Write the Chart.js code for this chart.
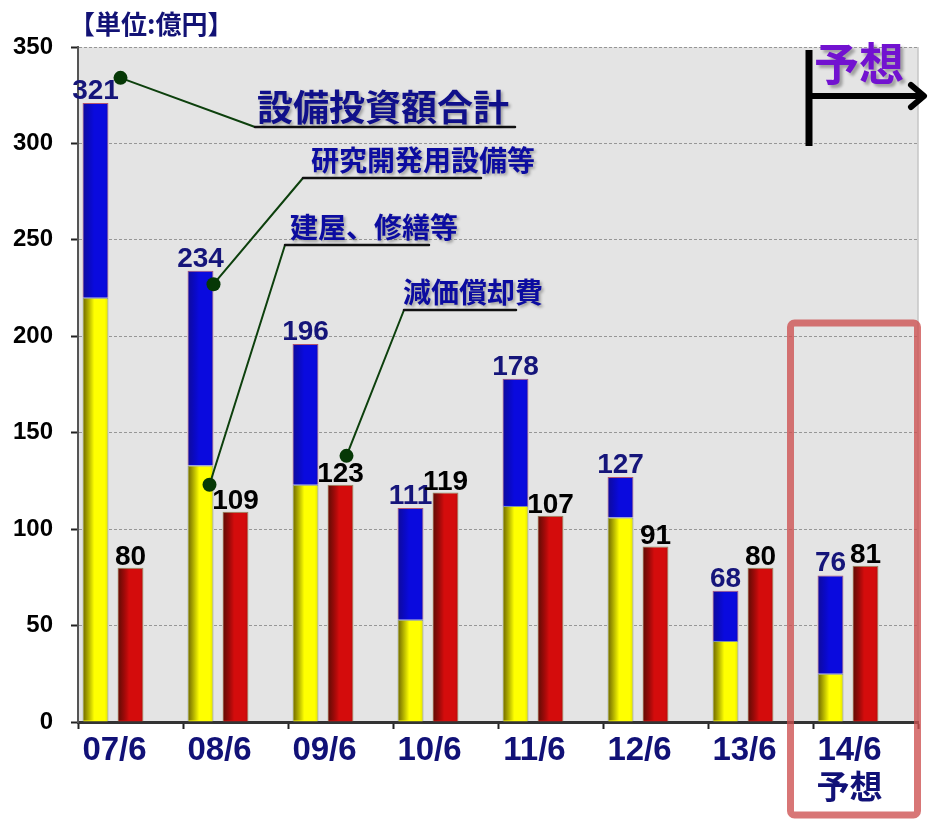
<!DOCTYPE html>
<html lang="ja">
<head>
<meta charset="utf-8">
<title>設備投資額と減価償却費</title>
<script src="https://cdn.jsdelivr.net/npm/chart.js@4.4.1/dist/chart.umd.min.js"></script>
<style>
  html, body { margin: 0; padding: 0; background: #fff; }
  #wrap { width: 930px; height: 820px; position: relative; }
</style>
</head>
<body>
<div id="wrap"><canvas id="capexChart" width="930" height="820"></canvas></div>
<script>
// 決算期（6月期）
const periods = ['07/6', '08/6', '09/6', '10/6', '11/6', '12/6', '13/6', ['14/6', '予想']];
// 建屋、修繕等（億円）
const buildingRepair = [220, 133, 123, 53, 112, 106, 42, 25];
// 研究開発用設備等（億円）
const rdEquipment = [101, 101, 73, 58, 66, 21, 26, 51];
// 減価償却費（億円）
const depreciation = [80, 109, 123, 119, 107, 91, 80, 81];
// 縦軸の目盛り
const yTicks = [0, 50, 100, 150, 200, 250, 300, 350];

const FONT = "'Liberation Sans', Arial, 'Noto Sans CJK JP', sans-serif";
const JP = "'Noto Sans CJK JP', 'Liberation Sans', sans-serif";

// 凡例の引き出し線: 点(カテゴリ+値) → 折れ点 → 下線の終点
const callouts = [
    { text: '設備投資額合計', size: 36, color: '#10108a', cat: 0, dx: -10, value: 334, elbow: [255, 127], end: 515, textX: 257, textY: 125 },
    { text: '研究開発用設備等', size: 28, color: '#0c0ca0', cat: 1, dx: -22, value: 227, elbow: [303, 178], end: 481, textX: 311, textY: 174 },
    { text: '建屋、修繕等', size: 28, color: '#0c0ca0', cat: 1, dx: -26, value: 123, elbow: [285, 245], end: 429, textX: 290, textY: 241 },
    { text: '減価償却費', size: 28, color: '#0c0ca0', cat: 2, dx: 6, value: 138, elbow: [404, 310], end: 516, textX: 403, textY: 306 }
];

// プロット領域の背景
const plotBg = {
    id: 'plotBg',
    beforeDraw(chart) {
        const { ctx, chartArea: a } = chart;
        ctx.save();
        ctx.fillStyle = '#e4e4e4';
        ctx.fillRect(a.left, a.top, a.right - a.left, a.bottom - a.top);
        ctx.strokeStyle = '#c6c6c6';
        ctx.lineWidth = 1.5;
        ctx.beginPath();
        ctx.moveTo(a.right, a.top);
        ctx.lineTo(a.right, a.bottom);
        ctx.stroke();
        ctx.restore();
    }
};

// 棒の左側に陰影をつける
const barShade = {
    id: 'barShade',
    afterDatasetsDraw(chart) {
        const ctx = chart.ctx;
        ctx.save();
        [0, 1, 2].forEach(di => {
            const strength = di === 1 ? 0.3 : 0.65;
            chart.getDatasetMeta(di).data.forEach(bar => {
                const left = bar.x - bar.width / 2;
                const top = Math.min(bar.y, bar.base);
                const h = Math.abs(bar.base - bar.y);
                if (h < 2) return;
                const g = ctx.createLinearGradient(left, 0, left + bar.width, 0);
                g.addColorStop(0, `rgba(30,15,0,${strength})`);
                g.addColorStop(0.45, 'rgba(0,0,0,0)');
                g.addColorStop(0.85, 'rgba(0,0,0,0)');
                g.addColorStop(1, 'rgba(0,0,0,0.12)');
                ctx.fillStyle = g;
                ctx.fillRect(left + 1, top + 1, bar.width - 2, h - 2);
            });
        });
        ctx.restore();
    }
};

// 棒の上の数値
const valueLabels = {
    id: 'valueLabels',
    afterDatasetsDraw(chart) {
        const ctx = chart.ctx;
        ctx.save();
        ctx.font = `bold 28px ${FONT}`;
        ctx.textAlign = 'center';
        ctx.textBaseline = 'alphabetic';
        chart.getDatasetMeta(1).data.forEach((bar, i) => {
            ctx.fillStyle = '#15157a';
            ctx.fillText(String(buildingRepair[i] + rdEquipment[i]), bar.x, bar.y - 4);
        });
        chart.getDatasetMeta(2).data.forEach((bar, i) => {
            ctx.fillStyle = '#000';
            ctx.fillText(String(depreciation[i]), bar.x, bar.y - 3);
        });
        ctx.restore();
    }
};

// 単位、引き出し線、予想の矢印と枠
const decorations = {
    id: 'decorations',
    afterDraw(chart) {
        const { ctx, scales: { x, y } } = chart;
        ctx.save();

        ctx.font = `bold 26px ${JP}`;
        ctx.fillStyle = '#121275';
        ctx.textBaseline = 'middle';
        ctx.fillText('【単位:億円】', 69, 24);

        callouts.forEach(c => {
            const px = x.getPixelForValue(c.cat) + c.dx;
            const py = y.getPixelForValue(c.value);
            ctx.lineCap = 'round';
            ctx.strokeStyle = '#0d400d';
            ctx.lineWidth = 2;
            ctx.beginPath();
            ctx.moveTo(px, py);
            ctx.lineTo(c.elbow[0], c.elbow[1]);
            ctx.stroke();
            ctx.strokeStyle = '#111';
            ctx.lineWidth = 2.5;
            ctx.beginPath();
            ctx.moveTo(c.elbow[0], c.elbow[1]);
            ctx.lineTo(c.end, c.elbow[1]);
            ctx.stroke();
            ctx.fillStyle = '#063806';
            ctx.beginPath();
            ctx.arc(px, py, 7, 0, Math.PI * 2);
            ctx.fill();

            ctx.save();
            ctx.shadowColor = 'rgba(0,0,0,0.3)';
            ctx.shadowOffsetX = 2;
            ctx.shadowOffsetY = 2;
            ctx.shadowBlur = 3;
            ctx.font = `bold ${c.size}px ${JP}`;
            ctx.fillStyle = c.color;
            ctx.textBaseline = 'ideographic';
            ctx.textAlign = 'left';
            ctx.fillText(c.text, c.textX, c.textY);
            ctx.restore();
        });

        // 予想ラベルと矢印
        ctx.save();
        ctx.shadowColor = 'rgba(0,0,0,0.3)';
        ctx.shadowOffsetX = 3;
        ctx.shadowOffsetY = 3;
        ctx.shadowBlur = 3;
        ctx.font = `bold 45px ${JP}`;
        ctx.fillStyle = '#7212d0';
        ctx.textBaseline = 'ideographic';
        ctx.fillText('予想', 814, 86);
        ctx.restore();

        ctx.strokeStyle = '#000';
        ctx.lineWidth = 7;
        ctx.lineCap = 'butt';
        ctx.beginPath();
        ctx.moveTo(809, 50);
        ctx.lineTo(809, 146);
        ctx.stroke();
        ctx.lineWidth = 6;
        ctx.beginPath();
        ctx.moveTo(809, 96);
        ctx.lineTo(922, 96);
        ctx.stroke();
        ctx.lineCap = 'round';
        ctx.lineJoin = 'round';
        ctx.beginPath();
        ctx.moveTo(911, 85);
        ctx.lineTo(924, 96);
        ctx.lineTo(911, 107);
        ctx.stroke();

        // 予想期の枠
        const cx = x.getPixelForValue(7);
        ctx.strokeStyle = 'rgba(205,80,80,0.78)';
        ctx.lineWidth = 7;
        ctx.beginPath();
        ctx.roundRect(cx - 75, 323, 127, 492, 4);
        ctx.stroke();

        ctx.restore();
    }
};

new Chart(document.getElementById('capexChart'), {
    type: 'bar',
    data: {
        labels: periods,
        datasets: [
            {
                label: '建屋、修繕等',
                data: buildingRepair,
                stack: 'capex',
                backgroundColor: '#ffff00',
                borderColor: 'rgba(110,130,150,0.85)',
                borderWidth: 1
            },
            {
                label: '研究開発用設備等',
                data: rdEquipment,
                stack: 'capex',
                backgroundColor: '#0a0ade',
                borderColor: 'rgba(170,60,90,0.85)',
                borderWidth: 1
            },
            {
                label: '減価償却費',
                data: depreciation,
                stack: 'dep',
                backgroundColor: '#d40c0c',
                borderColor: 'rgba(120,130,70,0.85)',
                borderWidth: 1
            },
            {
                // 空の列（棒を左寄せにするための余白）
                label: '',
                data: periods.map(() => null),
                stack: 'space',
                backgroundColor: 'rgba(0,0,0,0)',
                borderWidth: 0
            }
        ]
    },
    options: {
        responsive: false,
        animation: false,
        layout: { padding: { top: 47, right: 12, left: 0, bottom: 0 } },
        datasets: { bar: { barPercentage: 0.74, categoryPercentage: 1.0 } },
        plugins: {
            legend: { display: false },
            tooltip: { enabled: false }
        },
        scales: {
            x: {
                stacked: true,
                afterFit: s => { s.height = 98; },
                grid: { drawOnChartArea: false, drawTicks: true, tickLength: 7, tickColor: '#222', tickWidth: 2, offset: true },
                border: { color: '#333', width: 3 },
                ticks: {
                    color: '#111177',
                    font: { family: FONT, size: 33, weight: 'bold', lineHeight: 1.2 },
                    padding: 2,
                    labelOffset: -16,
                    maxRotation: 0,
                    autoSkip: false
                }
            },
            y: {
                stacked: true,
                min: 0,
                max: 350,
                afterFit: s => { s.width = 78; },
                afterBuildTicks: s => { s.ticks = yTicks.map(v => ({ value: v })); },
                grid: { color: 'rgba(125,125,125,0.75)', lineWidth: 1, tickLength: 7, tickColor: '#222', tickWidth: 2 },
                border: { color: '#555', width: 2, dash: [3, 2] },
                ticks: {
                    color: '#000',
                    font: { family: FONT, size: 24, weight: 'bold' },
                    padding: 18
                }
            }
        }
    },
    plugins: [plotBg, barShade, valueLabels, decorations]
});
</script>
</body>
</html>
